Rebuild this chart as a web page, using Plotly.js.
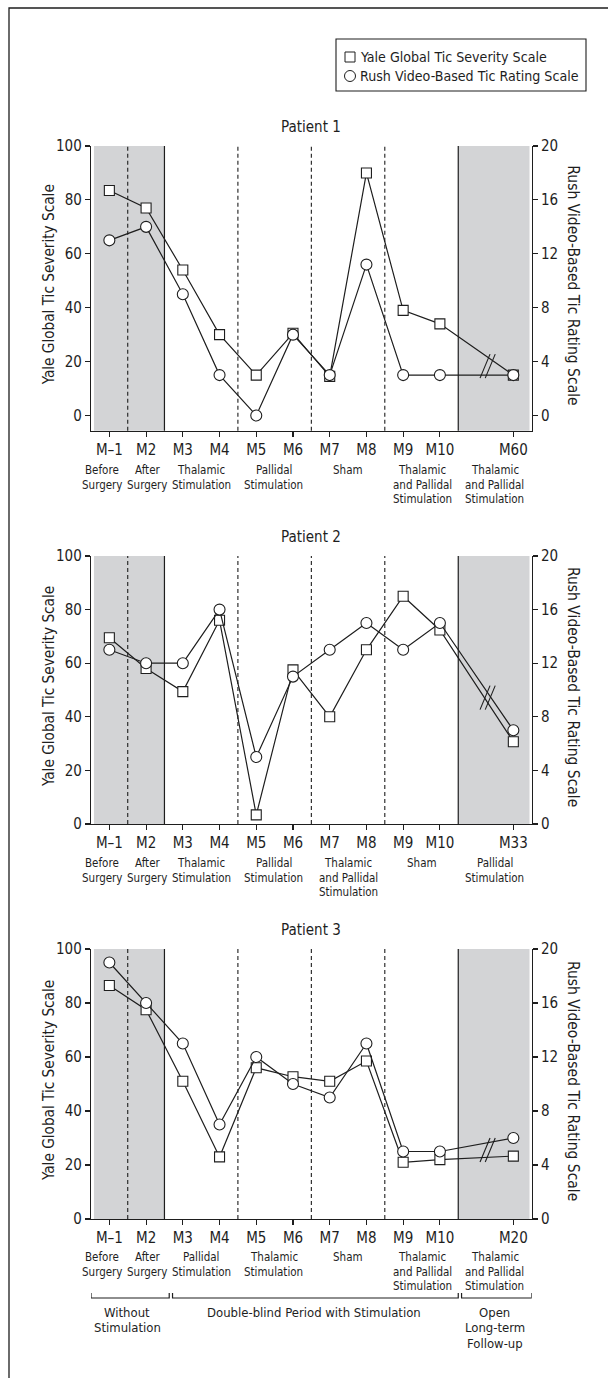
<!DOCTYPE html>
<html>
<head>
<meta charset="utf-8">
<script src="https://cdn.plot.ly/plotly-3.0.1.min.js"></script>
<style>
html,body{margin:0;padding:0;background:#fff;}
#chart{width:608px;height:1378px;}
</style>
</head>
<body>
<div id="chart"></div>
<script>
// ---------------- data ----------------
const monthsP1 = ["M–1","M2","M3","M4","M5","M6","M7","M8","M9","M10","M60"];
const monthsP2 = ["M–1","M2","M3","M4","M5","M6","M7","M8","M9","M10","M33"];
const monthsP3 = ["M–1","M2","M3","M4","M5","M6","M7","M8","M9","M10","M20"];

const yaleP1 = [83.5, 77, 54, 30, 15, 30.5, 14.5, 90, 39, 34, 15];
const rushP1 = [13, 14, 9, 3, 0, 6, 3, 11.2, 3, 3, 3];

const yaleP2 = [69.5, 58, 49.4, 76, 3.4, 57.5, 40, 65, 85, 72.4, 30.7];
const rushP2 = [13, 12, 12, 16, 5, 11, 13, 15, 13, 15, 7];

const yaleP3 = [86.5, 77.5, 51, 23, 56, 52.7, 51, 58.5, 21, 22, 23.3];
const rushP3 = [19, 16, 13, 7, 12, 10, 9, 13, 5, 5, 6];

const phasesP1 = [["Before","Surgery"],["After","Surgery"],["Thalamic","Stimulation"],["Pallidal","Stimulation"],["Sham"],["Thalamic","and Pallidal","Stimulation"],["Thalamic","and Pallidal","Stimulation"]];
const phasesP2 = [["Before","Surgery"],["After","Surgery"],["Thalamic","Stimulation"],["Pallidal","Stimulation"],["Thalamic","and Pallidal","Stimulation"],["Sham"],["Pallidal","Stimulation"]];
const phasesP3 = [["Before","Surgery"],["After","Surgery"],["Pallidal","Stimulation"],["Thalamic","Stimulation"],["Sham"],["Thalamic","and Pallidal","Stimulation"],["Thalamic","and Pallidal","Stimulation"]];

const periodLabels = [["Without","Stimulation"],["Double-blind Period with Stimulation"],["Open","Long-term","Follow-up"]];
const patientTitles = ["Patient 1","Patient 2","Patient 3"];
const yaleName = "Yale Global Tic Severity Scale";
const rushName = "Rush Video-Based Tic Rating Scale";
const yaleTicks = [0,20,40,60,80,100];
const rushTicks = [0,4,8,12,16,20];

// ---------------- layout helpers ----------------
const W = 608, H = 1378;
const FONT = "'DejaVu Sans Condensed','Liberation Sans Narrow','Arial Narrow',sans-serif";
const INK = "#1e1e1e";
const px = v => v / W;
const py = v => 1 - v / H;
const X0 = 91, X1 = 531.7;
const GAP = "\u2009";           // hidden slot for the time-axis break

const panels = [
  {months: monthsP1, yale: yaleP1, rush: rushP1, phases: phasesP1, top: 146, bot: 430.7, ymin: -5.64, title: 127, cat: 470},
  {months: monthsP2, yale: yaleP2, rush: rushP2, phases: phasesP2, top: 556, bot: 824, ymin: 0, title: 537, cat: 863},
  {months: monthsP3, yale: yaleP3, rush: rushP3, phases: phasesP3, top: 949, bot: 1219, ymin: 0, title: 930, cat: 1257}
];
const phaseCenters = [-0.2, 1.04, 2.5, 4.47, 6.5, 8.52, 10.5];

const layout = {
  width: W, height: H,
  margin: {l: 0, r: 0, t: 0, b: 0},
  paper_bgcolor: "#fff", plot_bgcolor: "rgba(0,0,0,0)",
  showlegend: false,
  font: {family: FONT, color: INK, size: 14},
  shapes: [], annotations: []
};
const traces = [];

panels.forEach((p, i) => {
  const n = i + 1;
  const xa = "xaxis" + (n === 1 ? "" : n), ya = "yaxis" + (n === 1 ? "" : n), yr = "yaxis" + (n + 3);
  const xid = "x" + (n === 1 ? "" : n), yid = "y" + (n === 1 ? "" : n), yrid = "y" + (n + 3);
  const cats = p.months.slice(0, 10).concat([GAP, p.months[10]]);
  const dom = [py(p.bot), py(p.top)];
  const axisCommon = {showline: true, linecolor: INK, linewidth: 1.2, ticks: "outside", ticklen: 5, tickwidth: 1.1,
    tickcolor: INK, showgrid: false, zeroline: false, fixedrange: true, tickfont: {family: FONT, size: 15, color: INK}};
  layout[xa] = Object.assign({}, axisCommon, {domain: [px(X0), px(X1)], anchor: yid, type: "category",
    categoryorder: "array", categoryarray: cats, tickvals: p.months, ticktext: p.months, range: [-0.5, 11.5],
    ticklabelstandoff: 0});
  layout[ya] = Object.assign({}, axisCommon, {domain: dom, anchor: xid, range: [p.ymin, 100], tickvals: yaleTicks});
  layout[yr] = Object.assign({}, axisCommon, {overlaying: yid, side: "right", anchor: xid,
    range: [p.ymin / 5, 20], tickvals: rushTicks});

  traces.push({x: p.months, y: p.yale, xaxis: xid, yaxis: yid, mode: "lines+markers", name: yaleName,
    line: {color: INK, width: 1.2}, marker: {symbol: "square", size: 10, color: "#fff", line: {color: INK, width: 1.1}}, cliponaxis: false});
  traces.push({x: p.months, y: p.rush, xaxis: xid, yaxis: yrid, mode: "lines+markers", name: rushName,
    line: {color: INK, width: 1.2}, marker: {symbol: "circle", size: 11, color: "#fff", line: {color: INK, width: 1.1}}, cliponaxis: false});

  // shaded off-stimulation / open-label periods
  const ydom = yid + " domain";
  [[-0.42, 1.5], [9.5, 11.44]].forEach(r => layout.shapes.push({type: "rect", xref: xid, yref: ydom, x0: r[0], x1: r[1], y0: 0, y1: 1,
    fillcolor: "#d3d4d6", line: {width: 0}, layer: "below"}));
  [1.5, 9.5].forEach(x => layout.shapes.push({type: "line", xref: xid, yref: ydom, x0: x, x1: x, y0: 0, y1: 1,
    line: {color: INK, width: 1.2}, layer: "below"}));
  [0.5, 3.5, 5.5, 7.5].forEach(x => layout.shapes.push({type: "line", xref: xid, yref: ydom, x0: x, x1: x, y0: 0, y1: 1,
    line: {color: INK, width: 1.1, dash: "4px,3px"}, layer: "below"}));

  // axis break marks on the M10 -> last segment
  const t = 0.65, bx = 10.3;
  const yv = (p.yale[9] + (p.yale[10] - p.yale[9]) * t + 5 * (p.rush[9] + (p.rush[10] - p.rush[9]) * t)) / 2;
  const pxPerX = (X1 - X0) / 12, pxPerY = (p.bot - p.top) / (100 - p.ymin);
  const dx = 5 / pxPerX, dy = 12 / pxPerY;
  [-2.6, 2.6].forEach(o => {
    const c = bx + o / pxPerX;
    layout.shapes.push({type: "line", xref: xid, yref: yid, x0: c - dx, x1: c + dx, y0: yv - dy, y1: yv + dy,
      line: {color: INK, width: 1.1}});
  });

  // titles
  layout.annotations.push({xref: "paper", yref: "paper", x: px((X0 + X1) / 2), y: py(p.title), text: patientTitles[i],
    showarrow: false, xanchor: "center", yanchor: "middle", font: {size: 15, family: FONT, color: INK}});
  const yc = py((p.top + p.bot) / 2 - 3);
  layout.annotations.push({xref: "paper", yref: "paper", x: px(49), y: yc, text: yaleName, textangle: -90,
    showarrow: false, xanchor: "center", yanchor: "middle", font: {size: 15.2, family: FONT, color: INK}});
  layout.annotations.push({xref: "paper", yref: "paper", x: px(573), y: yc, text: rushName, textangle: 90,
    showarrow: false, xanchor: "center", yanchor: "middle", font: {size: 15.5, family: FONT, color: INK}});

  // phase labels
  p.phases.forEach((lines, k) => {
    lines.forEach((ln, j) => layout.annotations.push({xref: xid, yref: "paper", x: phaseCenters[k], y: py(p.cat + j * 14.5),
      text: ln, showarrow: false, xanchor: "center", yanchor: "middle", font: {size: 11.5, family: FONT, color: INK}}));
  });
});

// study-period brackets under patient 3
const brackets = [[-0.5, 1.63], [1.72, 9.5], [9.59, 11.5]];
const bracketCenters = [0.49, 5.56, 10.49];
brackets.forEach((b, k) => {
  layout.shapes.push({type: "path", xref: "x3", yref: "paper",
    path: `M${b[0]},${py(1293)} L${b[0]},${py(1298)} L${b[1]},${py(1298)} L${b[1]},${py(1293)}`,
    line: {color: INK, width: 1.2}});
  periodLabels[k].forEach((ln, j) => layout.annotations.push({xref: "x3", yref: "paper", x: bracketCenters[k], y: py(1312 + j * 15.5),
    text: ln, showarrow: false, xanchor: "center", yanchor: "middle", font: {size: 13, family: FONT, color: INK}}));
});

// outer frame
layout.shapes.push({type: "rect", xref: "paper", yref: "paper", x0: px(9), x1: 1.05, y0: -0.05, y1: py(8),
  line: {color: INK, width: 1.3}});

// legend box
layout.shapes.push({type: "rect", xref: "paper", yref: "paper", x0: px(336), x1: px(586), y0: py(91), y1: py(39),
  line: {color: INK, width: 1.1}});
layout.shapes.push({type: "rect", xref: "paper", yref: "paper", x0: px(345), x1: px(355), y0: py(62), y1: py(52),
  line: {color: INK, width: 1}});
layout.shapes.push({type: "circle", xref: "paper", yref: "paper", x0: px(344.5), x1: px(355.5), y0: py(81.5), y1: py(70.5),
  line: {color: INK, width: 1}});
[[yaleName, 57], [rushName, 76]].forEach(([txt, y]) => layout.annotations.push({xref: "paper", yref: "paper", x: px(358), y: py(y),
  text: txt, showarrow: false, xanchor: "left", yanchor: "middle", font: {size: 14.1, family: FONT, color: INK}}));

Plotly.newPlot("chart", traces, layout, {staticPlot: true, displayModeBar: false});
</script>
</body>
</html>
